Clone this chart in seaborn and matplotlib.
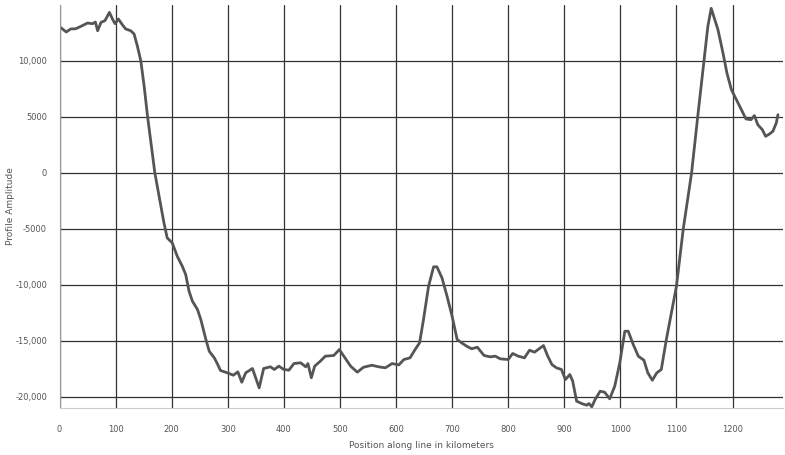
import pandas as pd
import seaborn as sns
import matplotlib.pyplot as plt

# positions along the line (km) and the profile amplitude
position_km = [0, 12, 20, 29, 38, 50, 59, 64, 68, 74, 81, 89, 95, 99, 105, 112, 118, 127, 133, 139,
               145, 151, 157, 163, 170, 186, 192, 201, 210, 219, 225, 231, 237, 246, 252, 261, 267, 276, 282, 287,
               299, 310, 318, 325, 332, 344, 356, 364, 376, 383, 391, 400, 409, 418, 430, 439, 443, 449, 455, 465,
               474, 489, 499, 507, 519, 531, 542, 557, 569, 581, 593, 605, 614, 625, 634, 642, 649, 658, 667, 673,
               682, 691, 700, 709, 717, 726, 735, 745, 757, 768, 777, 786, 800, 808, 818, 829, 838, 847, 855, 863,
               870, 878, 886, 895, 902, 910, 915, 922, 931, 940, 944, 949, 955, 964, 972, 981, 990, 999, 1008, 1014,
               1023, 1032, 1042, 1049, 1057, 1065, 1073, 1082, 1091, 1100, 1112, 1127, 1138, 1149, 1156, 1162, 1174, 1183, 1190, 1198,
               1207, 1216, 1224, 1233, 1239, 1245, 1253, 1259, 1266, 1272, 1278, 1281]
amplitude = [13070, 12590, 12860, 12880, 13090, 13390, 13330, 13480, 12700, 13450, 13600, 14340, 13690, 13330, 13750, 13240, 12860, 12700, 12410, 11300,
             10000, 7730, 5050, 2700, 0, -4400, -5800, -6250, -7450, -8340, -9080, -10570, -11460, -12200, -13100, -14880, -15930, -16520, -17100, -17650,
             -17850, -18070, -17770, -18700, -17860, -17470, -19200, -17470, -17320, -17560, -17260, -17560, -17620, -17030, -16960, -17320, -17030, -18300, -17260, -16820,
             -16370, -16310, -15780, -16370, -17260, -17800, -17360, -17180, -17320, -17410, -17030, -17150, -16670, -16520, -15780, -15180, -13100, -10130, -8390, -8390,
             -9380, -11020, -12800, -14880, -15180, -15480, -15710, -15570, -16310, -16430, -16370, -16610, -16670, -16130, -16370, -16520, -15840, -16010, -15710, -15420,
             -16310, -17120, -17410, -17560, -18460, -18010, -18600, -20390, -20600, -20750, -20600, -20900, -20240, -19500, -19590, -20180, -19050, -16960, -14140, -14140,
             -15330, -16370, -16730, -17860, -18520, -17860, -17560, -14880, -12500, -10130, -5060, 0, 5050, 9970, 13090, 14700, 12800, 10710, 8930, 7440,
             6540, 5650, 4820, 4760, 5120, 4310, 3870, 3270, 3480, 3720, 4460, 5200]

x_ticks = [0, 100, 200, 300, 400, 500, 600, 700, 800, 900, 1000, 1100, 1200]
y_ticks = [-20000, -15000, -10000, -5000, 0, 5000, 10000]
y_tick_labels = ["-20,000", "-15,000", "-10,000", "-5000", "0", "5000", "10,000"]

df = pd.DataFrame({"position": position_km, "amplitude": amplitude})

sns.set_style("white")
plt.rcParams['font.family'] = ['DejaVu Sans']

fig = plt.figure(figsize=(7.85, 4.55), dpi=100)
ax_w = 783 - 59.5
ax = fig.add_axes([59.5 / 785, 47 / 455, ax_w / 785, 403 / 455])

sns.lineplot(data=df, x="position", y="amplitude", color="#555555", linewidth=2.0, ax=ax)

ax.set_xlim(0, 1290)
ax.set_ylim(-21000, 15000)
ax.set_xticks(x_ticks)
ax.set_yticks(y_ticks)
ax.set_yticklabels(y_tick_labels)
ax.grid(True, color="#333333", linewidth=0.9)
ax.set_axisbelow(True)

for side in ["top", "right"]:
    ax.spines[side].set_visible(False)
ax.spines["left"].set_color("#999999")
ax.spines["bottom"].set_color("#cccccc")
ax.tick_params(axis="x", colors="#cccccc", length=9, width=1, labelcolor="#555555", labelsize=6, pad=3)
ax.tick_params(axis="y", colors="#999999", length=7, width=1, labelcolor="#555555", labelsize=6, pad=2)

ax.set_xlabel("Position along line in kilometers", fontsize=6.5, color="#555555", labelpad=5)
ax.set_ylabel("Profile Amplitude", fontsize=6.5, color="#555555", va="center")
ax.yaxis.set_label_coords(-(59.5 - 11) / ax_w, 0.5)

fig.savefig("out.png", dpi=100)
